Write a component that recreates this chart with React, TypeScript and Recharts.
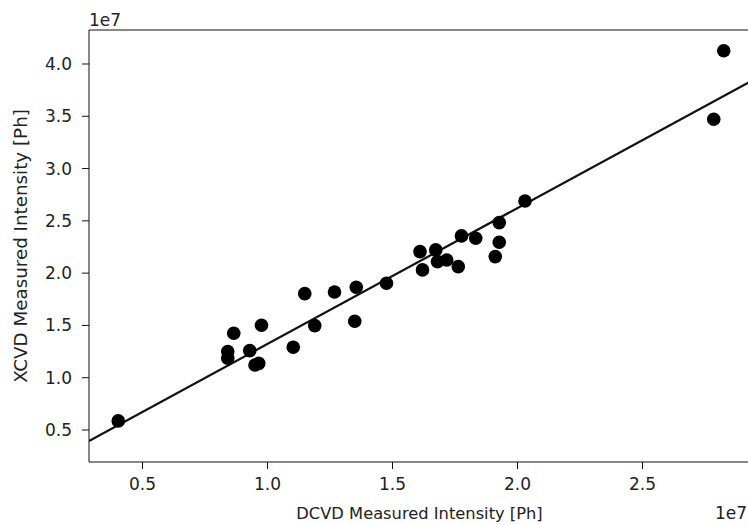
import { ScatterChart, Scatter, XAxis, YAxis, ReferenceLine, Label } from "recharts";

// values in units of 1e7 photons
const dcvd = [
  0.403, 0.841, 0.841, 0.865, 0.929, 0.95, 0.965, 0.976, 1.103, 1.149, 1.189, 1.268, 1.355, 1.349,
  1.476, 1.61, 1.62, 1.673, 1.68, 1.717, 1.763, 1.776, 1.833, 1.927, 1.927, 1.911, 2.03, 2.785, 2.825,
];
const xcvd = [
  0.587, 1.25, 1.186, 1.425, 1.259, 1.122, 1.137, 1.502, 1.292, 1.804, 1.498, 1.82, 1.865, 1.54,
  1.903, 2.206, 2.031, 2.222, 2.11, 2.126, 2.062, 2.356, 2.334, 2.483, 2.295, 2.158, 2.69, 3.471, 4.127,
];
const fitX = [0.286, 2.93];
const fitY = [0.395, 3.831];

const xTicks = [0.5, 1.0, 1.5, 2.0, 2.5];
const yTicks = [0.5, 1.0, 1.5, 2.0, 2.5, 3.0, 3.5, 4.0];
const xDomain = [0.286, 2.93];
const yDomain = [0.194, 4.325];

const points = dcvd.map((x, i) => ({ x, y: xcvd[i] }));
const fitLine = fitX.map((x, i) => ({ x, y: fitY[i] }));

const font = "'DejaVu Sans', sans-serif";
const tickStyle = { fill: "#222", fontSize: 17, fontFamily: font };

export default function App() {
  return (
    <div style={{ position: "absolute", left: 0, top: 0, width: 750, height: 525, background: "#fff" }}>
      <ScatterChart width={750} height={525} margin={{ top: 30, right: 0, bottom: 0, left: 0 }}>
        <XAxis
          type="number"
          dataKey="x"
          domain={xDomain}
          ticks={xTicks}
          allowDataOverflow
          height={63}
          tickSize={7}
          tickMargin={9}
          tick={tickStyle}
          tickFormatter={(v: number) => v.toFixed(1)}
          stroke="#111"
        >
          <Label
            value="DCVD Measured Intensity [Ph]"
            position="insideBottom"
            offset={6}
            style={{ fill: "#222", fontSize: 16.3, fontFamily: font }}
          />
        </XAxis>
        <YAxis
          type="number"
          dataKey="y"
          domain={yDomain}
          ticks={yTicks}
          allowDataOverflow
          width={89}
          tickSize={7}
          tickMargin={10}
          tick={tickStyle}
          tickFormatter={(v: number) => v.toFixed(1)}
          stroke="#111"
        >
          <Label
            value="XCVD Measured Intensity [Ph]"
            angle={-90}
            position="insideLeft"
            offset={21}
            style={{ fill: "#222", fontSize: 18.3, fontFamily: font, textAnchor: "middle" }}
          />
        </YAxis>
        <ReferenceLine y={yDomain[1]} stroke="#111" />
        <ReferenceLine x={xDomain[1]} stroke="#111" />
        <Scatter
          data={fitLine}
          line={{ stroke: "#111", strokeWidth: 2.2 }}
          shape={() => <g />}
          isAnimationActive={false}
        />
        <Scatter
          data={points}
          shape={(p: any) => <circle cx={p.cx} cy={p.cy} r={6.8} fill="#000" />}
          isAnimationActive={false}
        />
        <text x={89} y={26} fill="#222" fontSize={17} fontFamily={font}>
          1e7
        </text>
        <text x={747} y={519} fill="#222" fontSize={17} fontFamily={font} textAnchor="end">
          1e7
        </text>
      </ScatterChart>
    </div>
  );
}
